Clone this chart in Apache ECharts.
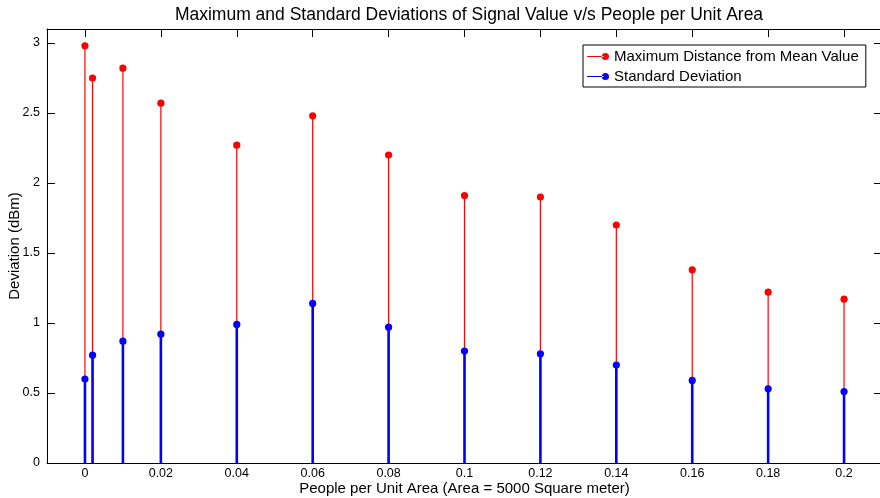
<!DOCTYPE html>
<html>
<head>
<meta charset="utf-8">
<script src="https://cdn.jsdelivr.net/npm/echarts@6/dist/echarts.min.js"></script>
<style>
  html, body { margin: 0; padding: 0; background: #fff; }
  #chart { width: 880px; height: 498px; }
</style>
</head>
<body>
<div id="chart"></div>
<script>
// data
const density = [0, 0.002, 0.01, 0.02, 0.04, 0.06, 0.08, 0.1, 0.12, 0.14, 0.16, 0.18, 0.2];
const maxDistance = [2.98, 2.75, 2.82, 2.57, 2.27, 2.48, 2.2, 1.91, 1.9, 1.7, 1.38, 1.22, 1.17];
const stdDeviation = [0.6, 0.77, 0.87, 0.92, 0.99, 1.14, 0.97, 0.8, 0.78, 0.7, 0.59, 0.53, 0.51];
const xTicks = [0, 0.02, 0.04, 0.06, 0.08, 0.1, 0.12, 0.14, 0.16, 0.18, 0.2];
const yTicks = [0, 0.5, 1, 1.5, 2, 2.5, 3];

const font = 'Liberation Sans, Arial, Helvetica, sans-serif';
const legendIcon = 'path://M0,3.4 L16,3.4 L16,4.6 L0,4.6 Z M14.5,4 A3.5,3.5 0 1 0 21.5,4 A3.5,3.5 0 1 0 14.5,4 Z';

// stem = line from 0 to value plus a filled dot on top
function stem(color, width) {
    return function (params, api) {
        const x = api.value(0);
        const base = api.coord([x, 0]);
        const top = api.coord([x, api.value(1)]);
        return {
            type: 'group',
            children: [
                { type: 'line', shape: { x1: base[0], y1: base[1], x2: top[0], y2: top[1] }, style: { stroke: color, lineWidth: width } },
                { type: 'circle', shape: { cx: top[0], cy: top[1], r: 3.6 }, style: { fill: color } }
            ]
        };
    };
}

const chart = echarts.init(document.getElementById('chart'));

function axis(extra, ticks) {
    return Object.assign({
        type: 'value',
        axisLine: { show: true, onZero: false, lineStyle: { color: '#000', width: 1 } },
        axisTick: { show: true, inside: true, length: 8, customValues: ticks, lineStyle: { color: '#000' } },
        splitLine: { show: false }
    }, extra);
}

chart.setOption({
    animation: false,
    backgroundColor: '#fff',
    title: {
        text: 'Maximum and Standard Deviations of Signal Value v/s People per Unit Area',
        left: 464, top: 1, textAlign: 'center',
        textStyle: { fontFamily: font, fontSize: 17.5, fontWeight: 'normal', color: '#000' }
    },
    legend: {
        orient: 'vertical',
        left: 583, top: 45,
        padding: [4, 7, 3, 4],
        itemGap: 5,
        itemWidth: 22, itemHeight: 8,
        backgroundColor: '#fff',
        borderColor: '#000', borderWidth: 1, borderRadius: 0,
        textStyle: { fontFamily: font, fontSize: 15, color: '#000' },
        data: [
            { name: 'Maximum Distance from Mean Value', icon: legendIcon },
            { name: 'Standard Deviation', icon: legendIcon }
        ]
    },
    grid: { left: 47, top: 29, width: 835, height: 434, outerBoundsMode: 'none', containLabel: false },
    xAxis: [
        axis({
            position: 'bottom', min: -0.01, max: 0.21,
            axisLabel: { customValues: xTicks, margin: 4, fontFamily: font, fontSize: 12.5, color: '#000' },
            name: 'People per Unit Area (Area = 5000 Square meter)',
            nameLocation: 'middle', nameGap: 18, nameMoveOverlap: false,
            nameTextStyle: { fontFamily: font, fontSize: 15, color: '#000' }
        }, xTicks),
        axis({
            position: 'top', min: -0.01, max: 0.21,
            axisLabel: { show: false }
        }, xTicks)
    ],
    yAxis: [
        axis({
            position: 'left', min: 0, max: 3.1,
            axisLabel: { customValues: yTicks, margin: 7, fontFamily: font, fontSize: 12.5, color: '#000' },
            name: 'Deviation (dBm)',
            nameLocation: 'middle', nameGap: 25, nameMoveOverlap: false,
            nameTextStyle: { fontFamily: font, fontSize: 15, color: '#000' }
        }, yTicks),
        axis({
            position: 'right', min: 0, max: 3.1,
            axisLabel: { show: false }
        }, yTicks)
    ],
    series: [
        {
            name: 'Maximum Distance from Mean Value',
            type: 'custom',
            itemStyle: { color: '#ff0000' },
            renderItem: stem('#ff0000', 1.2),
            data: density.map((x, i) => [x, maxDistance[i]])
        },
        {
            name: 'Standard Deviation',
            type: 'custom',
            itemStyle: { color: '#0000ff' },
            renderItem: stem('#0000ff', 2.6),
            data: density.map((x, i) => [x, stdDeviation[i]])
        }
    ]
});
</script>
</body>
</html>
